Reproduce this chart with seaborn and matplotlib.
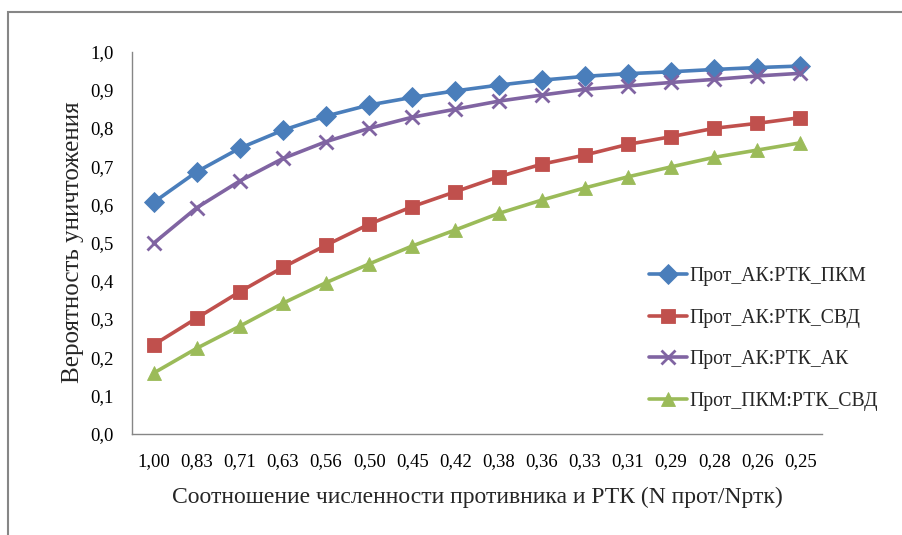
import matplotlib
matplotlib.use("Agg")
import matplotlib.pyplot as plt
from matplotlib.patches import Rectangle
import seaborn as sns
import pandas as pd

# Ratio of enemy to robotic units (category labels on the x axis)
ratios = ["1,00", "0,83", "0,71", "0,63", "0,56", "0,50", "0,45", "0,42",
          "0,38", "0,36", "0,33", "0,31", "0,29", "0,28", "0,26", "0,25"]

ak_pkm = [0.605, 0.685, 0.747, 0.794, 0.831, 0.860, 0.880, 0.897,
          0.912, 0.925, 0.935, 0.942, 0.947, 0.953, 0.958, 0.962]
ak_svd = [0.232, 0.302, 0.371, 0.435, 0.493, 0.548, 0.594, 0.633,
          0.672, 0.705, 0.729, 0.757, 0.777, 0.799, 0.812, 0.827]
ak_ak = [0.498, 0.591, 0.661, 0.720, 0.764, 0.799, 0.828, 0.849,
         0.870, 0.886, 0.901, 0.910, 0.919, 0.927, 0.936, 0.943]
pkm_svd = [0.158, 0.223, 0.281, 0.341, 0.395, 0.444, 0.491, 0.533,
           0.576, 0.611, 0.643, 0.672, 0.698, 0.723, 0.742, 0.761]

series_names = ["Прот_АК:РТК_ПКМ", "Прот_АК:РТК_СВД",
                "Прот_АК:РТК_АК", "Прот_ПКМ:РТК_СВД"]
series_values = [ak_pkm, ak_svd, ak_ak, pkm_svd]

colors = {"Прот_АК:РТК_ПКМ": "#4A7EBB", "Прот_АК:РТК_СВД": "#C0504D",
          "Прот_АК:РТК_АК": "#8064A2", "Прот_ПКМ:РТК_СВД": "#9BBB59"}
markers = {"Прот_АК:РТК_ПКМ": "D", "Прот_АК:РТК_СВД": "s",
           "Прот_АК:РТК_АК": "x", "Прот_ПКМ:РТК_СВД": "^"}
msizes = {"D": 10.5, "s": 10.5, "x": 10, "^": 10.5}

rows = []
for name, vals in zip(series_names, series_values):
    for i, v in enumerate(vals):
        rows.append({"pos": i, "value": v, "series": name})
df = pd.DataFrame(rows)

sns.set_theme(style="white")
plt.rcParams["font.family"] = ["Liberation Serif", "DejaVu Serif"]

fig = plt.figure(figsize=(9.02, 5.35), dpi=100)
ax = fig.add_axes([0.1463, 0.1897, 0.7650, 0.7140])

for name in series_names:
    sub = df[df["series"] == name]
    m = markers[name]
    sns.lineplot(data=sub, x="pos", y="value", ax=ax, color=colors[name],
                 linewidth=2.6, marker=m, markersize=msizes[m],
                 markeredgewidth=2.0 if m == "x" else 0.6,
                 markeredgecolor=colors[name], label=name)

ax.set_xlim(-0.5, len(ratios) - 0.5)
ax.set_ylim(0.0, 1.0)
ax.set_xticks(range(len(ratios)))
ax.set_xticklabels(ratios)
yt = [i / 10 for i in range(11)]
ax.set_yticks(yt)
ax.set_yticklabels([f"{v:.1f}".replace(".", ",") for v in yt])
ax.tick_params(axis="both", length=0, labelsize=13.5, colors="black")
ax.tick_params(axis="x", pad=14)
ax.tick_params(axis="y", pad=13)

for side in ["top", "right"]:
    ax.spines[side].set_visible(False)
for side in ["left", "bottom"]:
    ax.spines[side].set_color("#868686")
    ax.spines[side].set_linewidth(1.0)

ax.set_xlabel("Соотношение численности противника и РТК (N прот/Nртк)",
              fontsize=17, labelpad=12)
ax.set_ylabel("Вероятность уничтожения", fontsize=18, labelpad=5)

leg = ax.legend(loc="upper left", bbox_to_anchor=(0.711, 0.516),
                bbox_transform=fig.transFigure, frameon=False, fontsize=14.2,
                handlelength=1.9, handletextpad=0.15, labelspacing=1.15,
                borderaxespad=0)

# Outer chart frame
fig.add_artist(Rectangle((8 / 902, -0.1), 1.2, (535 - 12) / 535 + 0.1,
                         transform=fig.transFigure, fill=False,
                         edgecolor="#868686", linewidth=1.5))

fig.savefig("out.png", dpi=100)
